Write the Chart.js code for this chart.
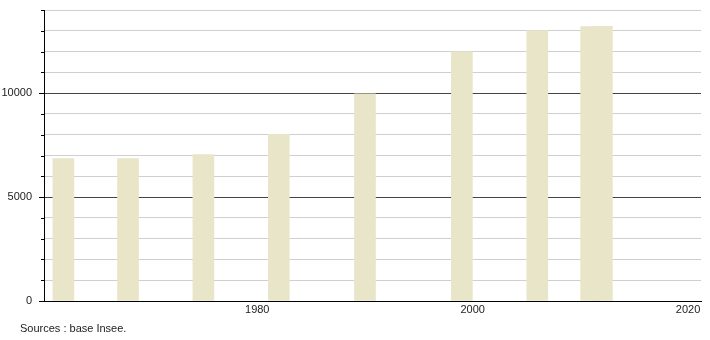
<!DOCTYPE html>
<html>
<head>
<meta charset="utf-8">
<script src="https://cdn.jsdelivr.net/npm/chart.js@4/dist/chart.umd.min.js"></script>
<style>
  html, body { margin: 0; padding: 0; background: #fff; }
  #wrap { position: relative; width: 710px; height: 340px; }
  #source {
    position: absolute; left: 20px; top: 322px;
    font: 11px "Liberation Sans", Arial, sans-serif; color: #222;
  }
</style>
</head>
<body>
<div id="wrap">
  <canvas id="chart" width="710" height="340"></canvas>
  <div id="source">Sources : base Insee.</div>
</div>
<script>
// années de recensement et population
const years = [1962, 1968, 1975, 1982, 1990, 1999, 2006, 2011, 2012];
const population = [6855, 6855, 7050, 8015, 9970, 11985, 13015, 13205, 13210];
const xTicks = [1980, 2000, 2020];
const yLabels = [0, 5000, 10000];

const FONT = { family: "'Liberation Sans', Arial, sans-serif", size: 11 };

// petits traits sur l'axe Y pour les graduations intermédiaires
const minorTicks = {
  id: "minorTicks",
  afterDraw(chart) {
    const y = chart.scales.y;
    const ctx = chart.ctx;
    ctx.save();
    ctx.strokeStyle = "#000";
    ctx.lineWidth = 1;
    for (let v = 1000; v <= 14000; v += 1000) {
      if (v % 5000 === 0) continue;
      const py = Math.round(y.getPixelForValue(v)) + 0.5;
      ctx.beginPath();
      ctx.moveTo(y.right - 3, py);
      ctx.lineTo(y.right, py);
      ctx.stroke();
    }
    ctx.restore();
  },
};

new Chart(document.getElementById("chart"), {
  type: "bar",
  data: {
    datasets: [
      {
        data: years.map((yr, i) => ({ x: yr, y: population[i] })),
        backgroundColor: "#e9e5c8",
        borderWidth: 0,
        barThickness: 21,
      },
    ],
  },
  options: {
    responsive: false,
    maintainAspectRatio: false,
    animation: false,
    layout: { padding: { top: 10, right: 9, left: 0, bottom: 0 } },
    scales: {
      x: {
        type: "linear",
        offset: false,
        min: 1960.2,
        max: 2021.2,
        afterBuildTicks: (s) => { s.ticks = xTicks.map((v) => ({ value: v })); },
        afterFit: (s) => { s.height = 39; s.paddingLeft = 0; s.paddingRight = 0; },
        grid: { display: false, drawTicks: false },
        border: { color: "#000", width: 1 },
        ticks: { font: FONT, color: "#222", padding: 2, maxRotation: 0, callback: (v) => String(v) },
      },
      y: {
        min: 0,
        max: 14000,
        afterFit: (s) => { s.width = 44; s.paddingTop = 0; s.paddingBottom = 0; },
        border: { color: "#000", width: 1 },
        grid: {
          drawTicks: true,
          tickLength: 5,
          color: (c) => (c.tick.value === 0 ? "#000" : c.tick.value % 5000 === 0 ? "#444" : "#cfcfcf"),
          tickColor: (c) => (c.tick.value % 5000 === 0 ? "#000" : "transparent"),
        },
        ticks: {
          stepSize: 1000,
          font: FONT,
          color: "#222",
          padding: 7,
          autoSkip: false,
          callback: (v) => (yLabels.includes(v) ? String(v) : ""),
        },
      },
    },
    plugins: {
      legend: { display: false },
      tooltip: { enabled: false },
    },
  },
  plugins: [minorTicks],
});
</script>
</body>
</html>
